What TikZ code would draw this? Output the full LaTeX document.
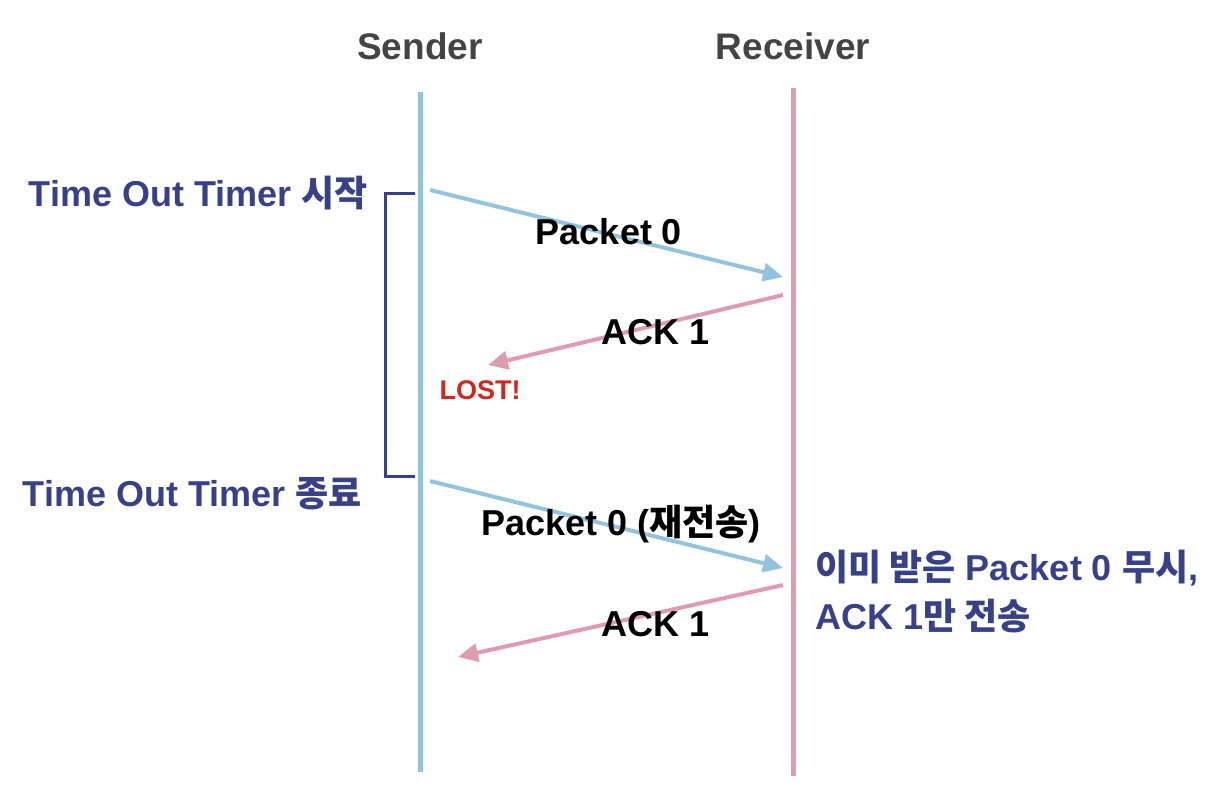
\documentclass[tikz,border=0pt]{standalone}
\usepackage{fontspec}
\setmainfont{Liberation Sans}
\newfontfamily\krfont{Noto Sans CJK KR}
\usepackage{xcolor}
\usetikzlibrary{arrows.meta}
\usetikzlibrary{calc}

\definecolor{sendblue}{HTML}{93C4DE}
\definecolor{recvpink}{HTML}{DF9BB0}
\definecolor{noteblue}{HTML}{36418A}
\definecolor{headgray}{HTML}{444444}
\definecolor{lostred}{HTML}{D0281E}

\newcommand{\kr}[1]{{\krfont\bfseries #1}}

\begin{document}
\begin{tikzpicture}[x=1pt,y=-1pt]

		\tikzstyle{head}    = [font=\bfseries\fontsize{37}{42}\selectfont, text=headgray, inner sep=0pt]
		\tikzstyle{msg}     = [font=\bfseries\fontsize{36}{42}\selectfont, text=black, inner sep=0pt]
		\tikzstyle{note}    = [font=\bfseries\fontsize{36}{42}\selectfont, text=noteblue, inner sep=0pt]
		\tikzstyle{lost}    = [font=\bfseries\fontsize{27}{30}\selectfont, text=lostred, inner sep=0pt]
		\tikzstyle{tip}     = [-{Triangle[length=20pt,width=18pt]}]
		\useasboundingbox (0,0) rectangle (1207,795);
		%%Lifelines
		\node [head](s) at (420,46) {Sender};
		\node [head](r) at (793,46) {Receiver};
		\coordinate (s0) at (420,92);
		\coordinate (s1) at (420,772);
		\coordinate (r0) at (793,88);
		\coordinate (r1) at (793,776);
		\draw [sendblue, line width=5pt] (s0)--(s1);
		\draw [recvpink, line width=5pt] (r0)--(r1);
		%%Timer
		\coordinate (t0) at (415,193);
		\coordinate (t1) at (415,476);
		\draw [noteblue, line width=3pt] (t0)--($(t0) + (-30, 0)$)--($(t1) + (-30, 0)$)--(t1);
		\node [note, anchor=east](start) at (368,193) {Time Out Timer \kr{시작}};
		\node [note, anchor=east](stop) at (362,494) {Time Out Timer \kr{종료}};
		%%Messages
		\coordinate (p0a) at (430,190);
		\coordinate (p0b) at (783,277);
		\coordinate (a1a) at (783,295);
		\coordinate (a1b) at (488,365);
		\coordinate (p1a) at (430,481);
		\coordinate (p1b) at (783,568);
		\coordinate (a2a) at (783,585);
		\coordinate (a2b) at (458,657);
		\draw [tip, sendblue, line width=4pt] (p0a)--(p0b);
		\draw [tip, recvpink, line width=4pt] (a1a)--(a1b);
		\draw [tip, sendblue, line width=4pt] (p1a)--(p1b);
		\draw [tip, recvpink, line width=4pt] (a2a)--(a2b);
		\node [msg](pk0) at (609,232) {Packet 0};
		\node [msg](ack1) at (656,332) {ACK 1};
		\node [lost](lost) at (480,390) {LOST!};
		\node [msg](pk1) at (621,524) {Packet 0 (\kr{재전송})};
		\node [msg](ack2) at (656,624) {ACK 1};
		%%Receiver note
		\node [note, anchor=west](dup) at (815,568) {\kr{이미 받은} Packet 0 \kr{무시},};
		\node [note, anchor=west](resend) at (815,616) {ACK 1\kr{만 전송}};
	\end{tikzpicture}
\end{document}
